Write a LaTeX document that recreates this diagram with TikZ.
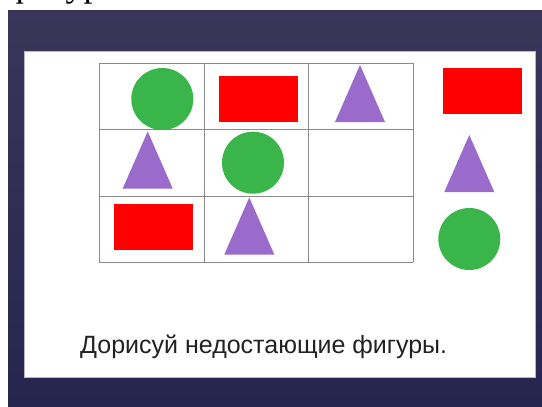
\documentclass[tikz,border=0pt]{standalone}
\usepackage{fontspec}
\setmainfont{Liberation Serif}
\setsansfont{Liberation Sans}
\usetikzlibrary{positioning}
\definecolor{navy700}  {HTML}{3A3659}
\definecolor{navy800}  {HTML}{25254F}
\definecolor{green500} {HTML}{3AB54A}
\definecolor{red500}   {HTML}{FF0000}
\definecolor{violet400}{HTML}{9B6BCC}
\definecolor{grey500}  {HTML}{8A8A8A}
\definecolor{grey300}  {HTML}{B8B8C4}
\definecolor{ink}      {HTML}{222222}
\newcommand{\spike}[3]{% name, apex x, apex y
  \coordinate (#1) at (#2,#3);
  \fill[tri] (#1) -- ++(25,57) -- ++(-50,0) -- cycle;}
\tikzset{
  disc/.style   ={circle, fill=green500, minimum size=62pt, inner sep=0pt},
  slab/.style   ={rectangle, fill=red500, minimum width=79pt,
                  minimum height=46pt, inner sep=0pt},
  tri/.style    ={fill=violet400},
  cell/.style   ={draw=grey500, line width=0.8pt},
  panel/.style  ={fill=white, draw=grey300, line width=0.8pt},
  caption/.style={font=\sffamily\fontsize{25}{30}\selectfont, text=ink,
                  inner sep=0pt, anchor=base west}
}

\begin{document}
\begin{tikzpicture}[x=1pt, y=-1pt]
\useasboundingbox (0,0) rectangle (542,407);
\fill[white] (0,0) rectangle (542,407);
% cut-off line of the page above the slide
\begin{scope}
  \clip (0,0) rectangle (542,10);
  \node[font=\fontsize{36}{40}\selectfont, inner sep=0pt, anchor=base west]
    (pagetext) at (8,-3.8) {фигуры};
\end{scope}
\shade[top color=navy700, bottom color=navy800] (8,10) rectangle (542,407);
\draw[panel] (24,51) rectangle (535,377);

% 3 x 3 table
\foreach \i in {0,...,3} {
  \draw[cell] (99.3+\i*104.67,63.3) -- (99.3+\i*104.67,262.3);
  \draw[cell] (99.3,63.3+\i*66.33) -- (413.3,63.3+\i*66.33);
}

\node[disc] (circA) at (162.3,99) {};
\node[slab] (rectA) at (258.3,98.8) {};
\spike{triA}{360}{65}
\spike{triB}{147.7}{131.5}
\node[disc] (circB) at (253,162.7) {};
\node[slab] (rectB) at (153.7,226.7) {};
\spike{triC}{249.3}{197.5}

% the shapes to choose from
\node[slab] (rectC) at (482.7,91.2) {};
\spike{triD}{469.3}{135}
\node[disc] (circC) at (469.3,239) {};

\node[caption] (task) at (80,353.5) {Дорисуй недостающие фигуры.};
\end{tikzpicture}
\end{document}
